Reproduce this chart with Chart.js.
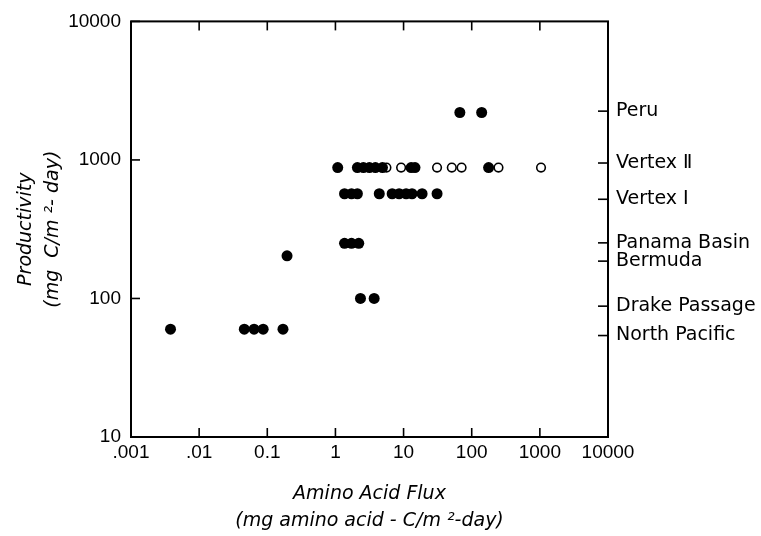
<!DOCTYPE html>
<html>
<head>
<meta charset="utf-8">
<script src="https://cdn.jsdelivr.net/npm/chart.js@4.4.1/dist/chart.umd.min.js"></script>
<style>
  body { margin: 0; background: #fff; }
  #wrap { width: 761px; height: 536px; }
</style>
</head>
<body>
<div id="wrap"><canvas id="flux-chart"></canvas></div>
<script>
// axis ticks
const xTicks = [0.001, 0.01, 0.1, 1, 10, 100, 1000, 10000];
const xTickLabels = ['.001', '.01', '0.1', '1', '10', '100', '1000', '10000'];
const yTicks = [10, 100, 1000, 10000];
const yTickLabels = ['10', '100', '1000', '10000'];

// sites marked on the right-hand axis
const siteNames = ['Peru', 'Vertex \u2161', 'Vertex \u2160', 'Panama Basin', 'Bermuda', 'Drake Passage', 'North Pacific'];
const siteProductivity = [2250, 950, 520, 252, 186, 88, 54];

// filled circles (flux, productivity)
const filledFlux = [67, 140,
    1.08, 2.1, 2.57, 3.15, 3.86, 4.9, 12.9, 14.7, 177,
    1.36, 1.72, 2.1, 4.4, 6.8, 8.6, 10.9, 13.3, 18.7, 31,
    1.36, 1.72, 2.2,
    0.195,
    2.33, 3.7,
    0.0038, 0.046, 0.064, 0.087, 0.17];
const filledProd = [2200, 2200,
    880, 880, 880, 880, 880, 880, 880, 880, 880,
    570, 570, 570, 570, 570, 570, 570, 570, 570, 570,
    250, 250, 250,
    203,
    100, 100,
    60, 60, 60, 60, 60];

// open circles
const openFlux = [5.6, 9.2, 31, 51, 71, 247, 1040];
const openProd = [880, 880, 880, 880, 880, 880, 880];

const toPoints = (xs, ys) => xs.map((x, i) => ({ x: x, y: ys[i] }));

const tickFont = { family: 'Liberation Sans', size: 19 };
const titleFont = { family: 'DejaVu Sans', size: 19, style: 'italic', lineHeight: 1.4 };

// box round the plot plus the inward tick marks
const frameTicks = {
    id: 'frameTicks',
    afterDraw(chart) {
        const { ctx, chartArea: a, scales } = chart;
        const line = (x1, y1, x2, y2) => {
            ctx.beginPath(); ctx.moveTo(x1, y1); ctx.lineTo(x2, y2); ctx.stroke();
        };
        ctx.save();
        ctx.strokeStyle = '#000';
        ctx.lineWidth = 2;
        ctx.strokeRect(a.left, a.top, a.right - a.left, a.bottom - a.top);
        ctx.lineWidth = 1.6;
        xTicks.forEach(v => {
            const px = scales.x.getPixelForValue(v);
            line(px, a.bottom, px, a.bottom - 9);
            line(px, a.top, px, a.top + 9);
        });
        yTicks.forEach(v => {
            const py = scales.y.getPixelForValue(v);
            line(a.left, py, a.left + 9, py);
        });
        siteProductivity.forEach(v => {
            const py = scales.y2.getPixelForValue(v);
            line(a.right - 10, py, a.right, py);
        });
        ctx.restore();
    }
};

new Chart(document.getElementById('flux-chart'), {
    type: 'scatter',
    data: {
        datasets: [
            {
                label: 'filled',
                data: toPoints(filledFlux, filledProd),
                backgroundColor: '#000',
                borderColor: '#000',
                borderWidth: 0,
                pointRadius: 5.5,
                yAxisID: 'y',
            },
            {
                label: 'open',
                data: toPoints(openFlux, openProd),
                backgroundColor: '#fff',
                borderColor: '#000',
                borderWidth: 1.6,
                pointRadius: 4.3,
                yAxisID: 'y',
            }
        ]
    },
    options: {
        responsive: true,
        maintainAspectRatio: false,
        animation: false,
        layout: { padding: { top: 17, left: 0, right: 0, bottom: 0 } },
        plugins: { legend: { display: false }, tooltip: { enabled: false } },
        scales: {
            x: {
                type: 'logarithmic',
                min: 0.001,
                max: 10000,
                afterBuildTicks: s => { s.ticks = xTicks.map(v => ({ value: v })); },
                afterFit: s => { s.height = 99; },
                grid: { display: false, drawTicks: false },
                border: { display: false },
                ticks: {
                    autoSkip: false, maxRotation: 0, padding: 4,
                    color: '#000', font: tickFont,
                    callback: v => xTickLabels[xTicks.indexOf(v)]
                },
                title: {
                    display: true,
                    text: ['Amino Acid Flux', '(mg amino acid - C/m \u00b2-day)'],
                    color: '#000', font: titleFont, padding: { top: 0, bottom: 2 }
                }
            },
            y: {
                type: 'logarithmic',
                position: 'left',
                min: 10,
                max: 10000,
                afterBuildTicks: s => { s.ticks = yTicks.map(v => ({ value: v })); },
                afterFit: s => { s.width = 131; },
                grid: { display: false, drawTicks: false },
                border: { display: false },
                ticks: {
                    autoSkip: false, padding: 10,
                    color: '#000', font: tickFont,
                    callback: v => yTickLabels[yTicks.indexOf(v)]
                },
                title: {
                    display: true,
                    text: ['Productivity', '(mg  C/m \u00b2- day)'],
                    color: '#000', font: titleFont, padding: { top: 13, bottom: 0 }
                }
            },
            y2: {
                type: 'logarithmic',
                position: 'right',
                min: 10,
                max: 10000,
                afterBuildTicks: s => { s.ticks = siteProductivity.map(v => ({ value: v })); },
                afterFit: s => { s.width = 153; },
                grid: { display: false, drawTicks: false },
                border: { display: false },
                ticks: {
                    autoSkip: false, padding: 8,
                    color: '#000', font: { family: 'DejaVu Sans', size: 19 },
                    callback: (v, i) => siteNames[i]
                }
            }
        }
    },
    plugins: [frameTicks]
});
</script>
</body>
</html>
